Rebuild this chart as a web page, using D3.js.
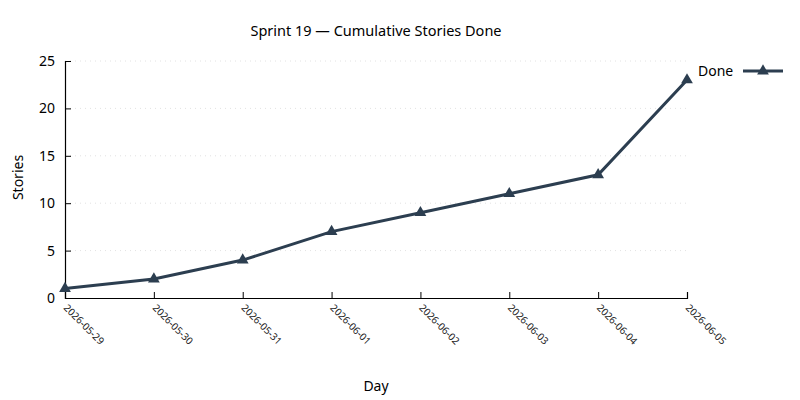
<!DOCTYPE html>
<html>
<head>
<meta charset="utf-8">
<script src="https://cdn.jsdelivr.net/npm/d3@7"></script>
<style>
  body { margin: 0; background: #fff; }
  svg { font-family: "Noto Sans", sans-serif; }
</style>
</head>
<body>
<div id="chart"></div>
<script>
var days = ['2026-05-29', '2026-05-30', '2026-05-31', '2026-06-01', '2026-06-02', '2026-06-03', '2026-06-04', '2026-06-05'];
var done = [1, 2, 4, 7, 9, 11, 13, 23];
var yTicks = [0, 5, 10, 15, 20, 25];

var width = 800, height = 400;
var margin = { top: 61, right: 113, bottom: 102, left: 65 };
var chart_width = width - margin.left - margin.right;
var chart_height = height - margin.top - margin.bottom;
var color = '#2c3e50';

var svg = d3.select('#chart').append('svg')
    .attr('width', width)
    .attr('height', height);

var g = svg.append('g')
    .attr('transform', 'translate(' + margin.left + ',' + margin.top + ')');

var x = d3.scalePoint().domain(days).range([0, chart_width]);
var y = d3.scaleLinear().domain([0, 25]).range([chart_height, 0]);

// dotted grid
g.append('g').selectAll('line')
    .data(yTicks.slice(1))
    .enter().append('line')
    .attr('x1', 0).attr('x2', chart_width)
    .attr('y1', function(d) { return y(d); })
    .attr('y2', function(d) { return y(d); })
    .attr('stroke', '#e2e2e2')
    .attr('stroke-width', 1)
    .attr('stroke-dasharray', '1,4');

// axes, ticks pointing inward
var yAxis = g.append('g')
    .call(d3.axisLeft(y).tickValues(yTicks).tickSize(-6).tickPadding(10));
var xAxis = g.append('g')
    .attr('transform', 'translate(0,' + chart_height + ')')
    .call(d3.axisBottom(x).tickSize(-6).tickPadding(8));

[yAxis, xAxis].forEach(function(a) {
    a.select('.domain').attr('stroke', '#000').attr('stroke-width', 1.2);
    a.selectAll('.tick line').attr('stroke', '#000');
});
yAxis.selectAll('.tick text').attr('font-size', 14).attr('fill', '#000').attr('font-family', '"Noto Sans", sans-serif');
xAxis.selectAll('.tick text')
    .attr('font-size', 10)
    .attr('fill', '#222')
    .attr('font-family', '"Noto Sans", sans-serif')
    .attr('text-anchor', 'start')
    .attr('dy', '0.35em')
    .attr('transform', 'translate(0,8) rotate(45)')
    .attr('y', 0)
    .attr('x', 0);

// line
var line = d3.line()
    .x(function(d, i) { return x(days[i]); })
    .y(function(d) { return y(d); });

g.append('path')
    .datum(done)
    .attr('d', line)
    .attr('fill', 'none')
    .attr('stroke', color)
    .attr('stroke-width', 3);

var tri = d3.symbol().type(d3.symbolTriangle).size(60);
g.selectAll('.pt')
    .data(done)
    .enter().append('path')
    .attr('class', 'pt')
    .attr('d', tri)
    .attr('transform', function(d, i) { return 'translate(' + x(days[i]) + ',' + y(d) + ')'; })
    .attr('fill', color);

// titles
svg.append('text')
    .attr('x', margin.left + chart_width / 2)
    .attr('y', 36)
    .attr('text-anchor', 'middle')
    .attr('font-size', 14.5)
    .attr('fill', '#000')
    .text('Sprint 19 \u2014 Cumulative Stories Done');

svg.append('text')
    .attr('x', margin.left + chart_width / 2)
    .attr('y', 391)
    .attr('text-anchor', 'middle')
    .attr('font-size', 14)
    .attr('fill', '#000')
    .text('Day');

svg.append('text')
    .attr('transform', 'translate(23,' + (margin.top + chart_height / 2 - 2) + ') rotate(-90)')
    .attr('text-anchor', 'middle')
    .attr('font-size', 14)
    .attr('fill', '#000')
    .text('Stories');

// legend
var legend = svg.append('g').attr('transform', 'translate(698,71)');
legend.append('text')
    .attr('x', 0).attr('y', 5)
    .attr('font-size', 14)
    .attr('fill', '#000')
    .text('Done');
legend.append('line')
    .attr('x1', 45).attr('x2', 85)
    .attr('y1', 0).attr('y2', 0)
    .attr('stroke', color)
    .attr('stroke-width', 3);
legend.append('path')
    .attr('d', tri)
    .attr('transform', 'translate(65,0)')
    .attr('fill', color);
</script>
</body>
</html>
